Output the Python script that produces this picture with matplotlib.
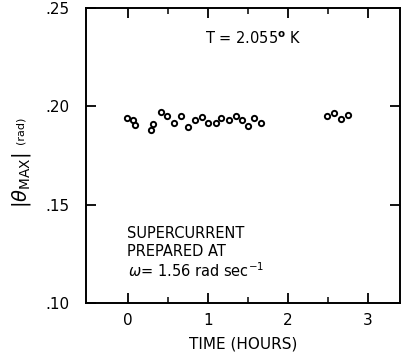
import matplotlib
matplotlib.use("Agg")
import matplotlib.pyplot as plt
from matplotlib.ticker import FixedLocator

time_hours = [-0.016, 0.067, 0.0875, 0.283, 0.308, 0.4125, 0.49, 0.575, 0.6625, 0.746,
              0.8375, 0.921, 0.996, 1.10, 1.167, 1.258, 1.346, 1.425, 1.504, 1.579, 1.658,
              2.483, 2.575, 2.6625, 2.754]
theta_max = [0.1943, 0.1929, 0.1903, 0.1882, 0.1912, 0.1971, 0.1951, 0.1917, 0.1951, 0.1895,
             0.1929, 0.1946, 0.1917, 0.1917, 0.1943, 0.1932, 0.1949, 0.1929, 0.1900, 0.1941, 0.1914,
             0.1951, 0.1968, 0.1934, 0.1958]
x_ticks = [0, 1, 2, 3]
x_minor = [0.5, 1.5, 2.5]
y_ticks = [0.10, 0.15, 0.20, 0.25]
y_ticklabels = [".10", ".15", ".20", ".25"]

plt.rcParams['font.family'] = ['DejaVu Sans']
fig = plt.figure(figsize=(4.01, 3.54), dpi=100)
W, H = 401, 354
ax = fig.add_axes([86 / W, 1 - 303 / H, (400 - 86) / W, (303 - 8) / H])

ax.plot(time_hours, theta_max, 'o', ms=3.8, mfc='white', mec='black', mew=1.4)

ax.set_xlim(-0.525, 3.4)
ax.set_ylim(0.10, 0.25)
ax.set_xticks(x_ticks)
ax.set_xticklabels([str(t) for t in x_ticks], fontsize=11)
ax.xaxis.set_minor_locator(FixedLocator(x_minor))
ax.set_yticks(y_ticks)
ax.set_yticklabels(y_ticklabels, fontsize=11)
ax.tick_params(which='major', direction='in', length=7, width=1.3, top=True, right=True, pad=7)
ax.tick_params(which='minor', direction='in', length=4, width=1.1, top=True, right=False)
ax.tick_params(axis='y', pad=12)
for s in ax.spines.values():
    s.set_linewidth(1.4)

ax.set_xlabel('TIME (HOURS)', fontsize=11, labelpad=6)

# y-axis label: main symbol plus small unit
fig.text(33 / W, 1 - 180 / H, r'$|\theta_{\mathrm{MAX}}|$', fontsize=14, rotation=90,
         ha='right', va='center')
fig.text(26 / W, 1 - 130 / H, '(rad)', fontsize=8, rotation=90, ha='right', va='center')

fig.text(205 / W, 1 - 39 / H, r'T = 2.055$^{\mathbf{o}}$ K', fontsize=10.5, va='center')
fig.text(127 / W, 1 - 242 / H, 'SUPERCURRENT\nPREPARED AT', fontsize=10.5, va='center',
         linespacing=1.25)
fig.text(128 / W, 1 - 271 / H, r'$\omega$= 1.56 rad sec$^{-1}$', fontsize=10.5, va='center')

fig.savefig('out.png', dpi=100)
